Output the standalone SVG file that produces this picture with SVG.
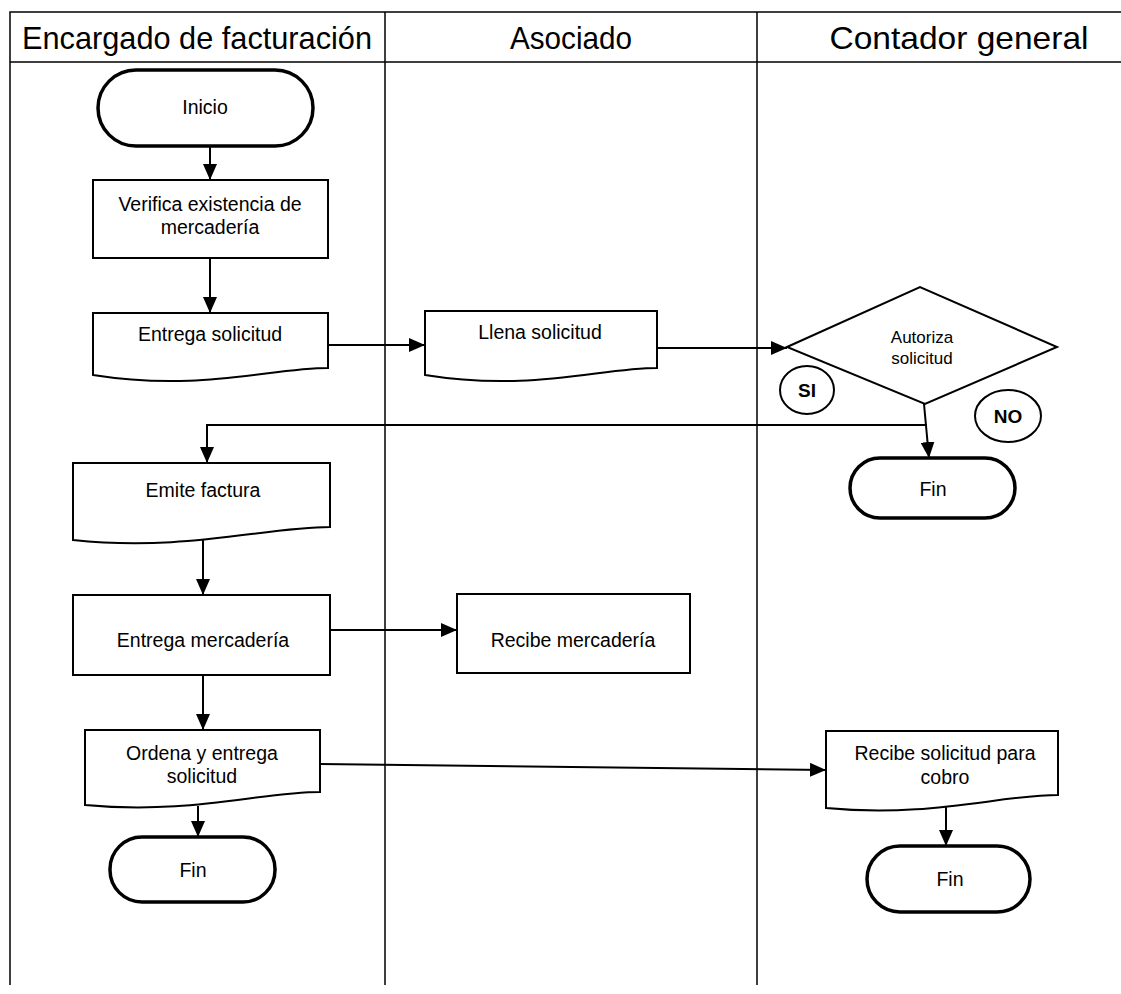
<svg xmlns="http://www.w3.org/2000/svg" width="1121" height="994" viewBox="0 0 1121 994">
<defs>
<marker id="ah" markerWidth="16" markerHeight="14" refX="16" refY="7" orient="auto" markerUnits="userSpaceOnUse">
<path d="M0,0 L16,7 L0,14 Z" fill="#000"/>
</marker>
<style>
.lane{stroke:#000;stroke-width:1.5;fill:none}
.hd{font-family:"Liberation Sans",Arial,sans-serif;font-size:32px;fill:#000;text-anchor:middle}
.box{fill:#fff;stroke:#000;stroke-width:2}
.term{fill:#fff;stroke:#000;stroke-width:3.5}
.t{font-family:"Liberation Sans",Arial,sans-serif;font-size:19.5px;fill:#000;text-anchor:middle}
.ts{font-family:"Liberation Sans",Arial,sans-serif;font-size:17px;fill:#000;text-anchor:middle}
.tb{font-family:"Liberation Sans",Arial,sans-serif;font-size:19px;font-weight:bold;fill:#000;text-anchor:middle}
.c{fill:none;stroke:#000;stroke-width:2}
</style>
</defs>
<rect width="1121" height="994" fill="#fff"/>
<g id="lanes">
<path class="lane" d="M10,985 V12 H1121 M10,62 H1121 M385,12 V985 M757,12 V985"/>
<text class="hd" x="197" y="49" textLength="350" lengthAdjust="spacingAndGlyphs">Encargado de facturación</text>
<text class="hd" x="571" y="49" textLength="122" lengthAdjust="spacingAndGlyphs">Asociado</text>
<text class="hd" x="959" y="49" textLength="259" lengthAdjust="spacingAndGlyphs">Contador general</text>
</g>
<g id="connectors">
<path class="c" d="M210,146 V180" marker-end="url(#ah)"/>
<path class="c" d="M210,258 V313" marker-end="url(#ah)"/>
<path class="c" d="M328,345 H425" marker-end="url(#ah)"/>
<path class="c" d="M657,348 H787" marker-end="url(#ah)"/>
<path class="c" d="M924,404 L929,458" marker-end="url(#ah)"/>
<path class="c" d="M927,425 H207 V463" marker-end="url(#ah)"/>
<path class="c" d="M203,540 V595" marker-end="url(#ah)"/>
<path class="c" d="M330,630 H457" marker-end="url(#ah)"/>
<path class="c" d="M203,675 V730" marker-end="url(#ah)"/>
<path class="c" d="M198,806 V837" marker-end="url(#ah)"/>
<path class="c" d="M320,764 L826,770" marker-end="url(#ah)"/>
<path class="c" d="M946,807 V846" marker-end="url(#ah)"/>
</g>
<g id="inicio">
<rect class="term" x="98" y="70" width="215" height="76" rx="38"/>
<text class="t" x="205" y="114">Inicio</text>
</g>
<g id="verifica">
<rect class="box" x="93" y="180" width="235" height="78"/>
<text class="t" x="210" y="211">Verifica existencia de</text>
<text class="t" x="210" y="234">mercadería</text>
</g>
<g id="entrega-solicitud">
<path class="box" d="M93,313 H328 V368 C270,368 200,392 93,375 Z"/>
<text class="t" x="210" y="341">Entrega solicitud</text>
</g>
<g id="llena-solicitud">
<path class="box" d="M425,311 H657 V368 C600,368 530,392 425,375 Z"/>
<text class="t" x="540" y="339">Llena solicitud</text>
</g>
<g id="autoriza">
<path class="box" d="M787,347 L920,287 L1057,347 L925,404 Z"/>
<text class="ts" x="922" y="343">Autoriza</text>
<text class="ts" x="922" y="364">solicitud</text>
</g>
<g id="si">
<ellipse class="box" cx="807" cy="390" rx="27" ry="24"/>
<text class="tb" x="807" y="397">SI</text>
</g>
<g id="no">
<ellipse class="box" cx="1008" cy="416" rx="33" ry="26"/>
<text class="tb" x="1008" y="423">NO</text>
</g>
<g id="fin-contador-1">
<rect class="term" x="850" y="458" width="165" height="60" rx="30"/>
<text class="t" x="933" y="496">Fin</text>
</g>
<g id="emite-factura">
<path class="box" d="M73,463 H330 V527 C265,527 185,552 73,540 Z"/>
<text class="t" x="203" y="497">Emite factura</text>
</g>
<g id="entrega-mercaderia">
<rect class="box" x="73" y="595" width="257" height="80"/>
<text class="t" x="203" y="647">Entrega mercadería</text>
</g>
<g id="recibe-mercaderia">
<rect class="box" x="457" y="594" width="233" height="79"/>
<text class="t" x="573" y="647">Recibe mercadería</text>
</g>
<g id="ordena">
<path class="box" d="M85,730 H320 V792 C260,792 190,815 85,805 Z"/>
<text class="t" x="202" y="760">Ordena y entrega</text>
<text class="t" x="202" y="783">solicitud</text>
</g>
<g id="fin-encargado">
<rect class="term" x="110" y="837" width="165" height="65" rx="32"/>
<text class="t" x="193" y="877">Fin</text>
</g>
<g id="recibe-solicitud">
<path class="box" d="M826,731 H1058 V795 C1000,795 930,818 826,808 Z"/>
<text class="t" x="945" y="760">Recibe solicitud para</text>
<text class="t" x="945" y="784">cobro</text>
</g>
<g id="fin-contador-2">
<rect class="term" x="867" y="846" width="163" height="66" rx="33"/>
<text class="t" x="950" y="886">Fin</text>
</g>
</svg>
